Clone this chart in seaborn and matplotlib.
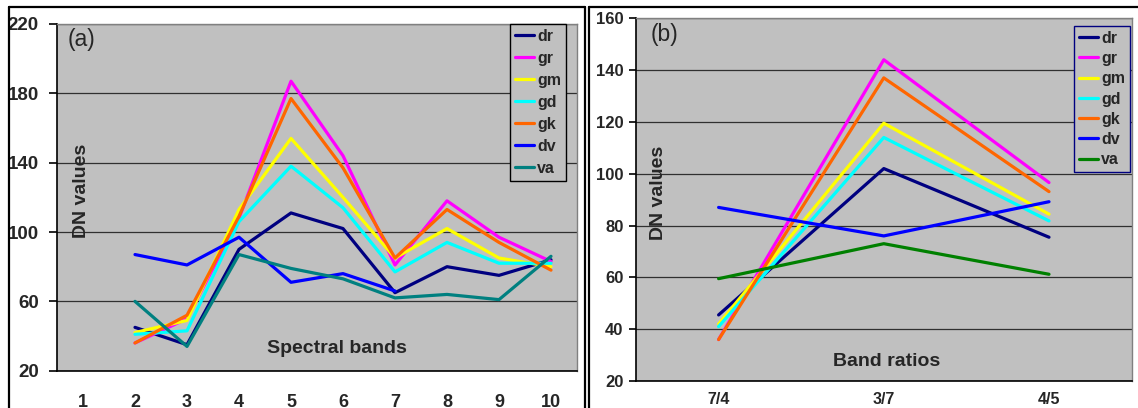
import numpy as np
import pandas as pd
import seaborn as sns
import matplotlib.pyplot as plt
from matplotlib.lines import Line2D

# Panel (a): DN values per spectral band (band 1 has no data)
bands = ['1', '2', '3', '4', '5', '6', '7', '8', '9', '10']
bands_used = ['2', '3', '4', '5', '6', '7', '8', '9', '10']
series = ['dr', 'gr', 'gm', 'gd', 'gk', 'dv', 'va']

dr_a = [45, 35, 90, 111, 102, 65, 80, 75, 84]
gr_a = [36, 50, 108, 187, 144, 81, 118, 97, 83]
gm_a = [42, 49, 113, 154, 120, 85, 102, 85, 80]
gd_a = [41, 43, 106, 138, 114, 77, 94, 82, 82]
gk_a = [36, 52, 109, 177, 137, 85, 113, 94, 78]
dv_a = [87, 81, 97, 71, 76, 66, np.nan, np.nan, np.nan]
va_a = [60, 34, 87, 79, 73, 62, 64, 61, 86]

# Panel (b): DN values per band ratio
ratios = ['7/4', '3/7', '4/5']
dr_b = [45.5, 102, 75.5]
gr_b = [36, 144, 96.6]
gm_b = [42, 119.5, 84.4]
gd_b = [41, 114, 81.8]
gk_b = [36, 137, 93.1]
dv_b = [87, 76, 89.2]
va_b = [59.5, 73, 61.2]

colors_a = ['#000080', '#FF00FF', '#FFFF00', '#00FFFF', '#FF6600', '#0000FF', '#008080']
colors_b = ['#000080', '#FF00FF', '#FFFF00', '#00FFFF', '#FF6600', '#0000FF', '#008000']


def to_long(values, cats):
    rows = []
    for name, vals in zip(series, values):
        for c, v in zip(cats, vals):
            rows.append({'series': name, 'cat': c, 'dn': v})
    return pd.DataFrame(rows)


df_a = to_long([dr_a, gr_a, gm_a, gd_a, gk_a, dv_a, va_a], bands_used)
df_a['pos'] = df_a['cat'].map({b: i for i, b in enumerate(bands)})
df_a = df_a.dropna()
df_b = to_long([dr_b, gr_b, gm_b, gd_b, gk_b, dv_b, va_b], ratios)
df_b['pos'] = df_b['cat'].map({r: i for i, r in enumerate(ratios)})

sns.set_style('white', {'axes.facecolor': '#C0C0C0'})
plt.rcParams['font.family'] = ['Liberation Sans', 'DejaVu Sans']

fig = plt.figure(figsize=(11.38, 4.08), dpi=100)
W, H = 1138.0, 408.0

# chart-area frames
for x in [9, 585]:
    fig.add_artist(Line2D([x / W, x / W], [0, 1 - 7 / H], color='black', lw=1.6))
fig.add_artist(Line2D([9 / W, 585 / W], [1 - 7 / H, 1 - 7 / H], color='black', lw=1.6))
fig.add_artist(Line2D([589 / W, 589 / W], [0, 1 - 7 / H], color='black', lw=1.6))
fig.add_artist(Line2D([589 / W, 1], [1 - 7 / H, 1 - 7 / H], color='black', lw=1.6))

ax1 = fig.add_axes([57 / W, (H - 370.7) / H, 520 / W, 346.7 / H])
ax2 = fig.add_axes([636 / W, (H - 381) / H, 495.6 / W, 362.7 / H])


def style_axes(ax, ymin, ymax, step, colors, df, legend_x, legend_top, spacing):
    ax.set_axisbelow(True)
    ax.yaxis.grid(True, color='#303030', lw=0.9)
    sns.lineplot(data=df, x='pos', y='dn', hue='series', hue_order=series,
                 palette=colors, linewidth=2.3, sort=False, estimator=None,
                 ax=ax)
    ax.set_ylim(ymin, ymax)
    ax.set_yticks(np.arange(ymin, ymax + 1, step))
    ax.set_xlabel('')
    ax.set_ylabel('')
    for s in ['top', 'right']:
        ax.spines[s].set_color('#808080')
        ax.spines[s].set_linewidth(1.0)
    for s in ['left', 'bottom']:
        ax.spines[s].set_color('black')
        ax.spines[s].set_linewidth(1.2)
    sns.move_legend(ax, loc='upper left', bbox_to_anchor=(legend_x, legend_top),
                    title=None, frameon=True, fancybox=False, framealpha=1,
                    borderpad=0.3, labelspacing=spacing, handlelength=1.2,
                    handletextpad=0.2, borderaxespad=0,
                    prop={'weight': 'bold', 'size': 11.5})
    leg = ax.get_legend()
    leg.get_frame().set_linewidth(1.0)
    for line in leg.get_lines():
        line.set_linewidth(2.3)


style_axes(ax1, 20, 220, 40, colors_a, df_a, 0.871, 1.0, 0.44)
style_axes(ax2, 20, 160, 20, colors_b, df_b, 0.884, 0.979, 0.33)
ax1.get_legend().get_frame().set_edgecolor('black')
ax2.get_legend().get_frame().set_edgecolor('#000080')

# panel (a) x axis: labels centred, ticks on category boundaries
ax1.set_xlim(-0.5, 9.5)
ax1.set_xticks(range(len(bands)))
ax1.set_xticklabels(bands)
ax1.set_xticks(np.arange(-0.5, 10, 1), minor=True)
ax1.tick_params(axis='x', which='major', length=0, pad=17, labelsize=13)
ax1.tick_params(axis='x', which='minor', direction='out', length=6, width=1.2, color='black')
ax1.tick_params(axis='y', direction='out', length=6, width=1.2, color='black', pad=7,
                labelsize=13.5, left=True)
for lbl in ax1.get_xticklabels() + ax1.get_yticklabels():
    lbl.set_fontweight('bold')

# panel (b)
ax2.set_xlim(-0.5, 2.5)
ax2.set_xticks(range(len(ratios)))
ax2.set_xticklabels(ratios)
ax2.tick_params(axis='x', length=0, pad=8, labelsize=11.5)
ax2.tick_params(axis='y', direction='out', length=5, width=1.2, color='black', pad=4,
                labelsize=12, left=True)
for lbl in ax2.get_xticklabels() + ax2.get_yticklabels():
    lbl.set_fontweight('bold')

ax1.text(0.021, 0.955, '(a)', transform=ax1.transAxes, fontsize=16.5, va='center', ha='left')
ax2.text(0.03, 0.955, '(b)', transform=ax2.transAxes, fontsize=16.5, va='center', ha='left')
ax1.text(0.047, 0.52, 'DN values', transform=ax1.transAxes, rotation=90, fontsize=14,
         fontweight='bold', va='center', ha='center')
ax2.text(0.045, 0.518, 'DN values', transform=ax2.transAxes, rotation=90, fontsize=14,
         fontweight='bold', va='center', ha='center')
ax1.text(0.539, 0.064, 'Spectral bands', transform=ax1.transAxes, fontsize=14,
         fontweight='bold', va='center', ha='center')
ax2.text(0.506, 0.055, 'Band ratios', transform=ax2.transAxes, fontsize=14,
         fontweight='bold', va='center', ha='center')

fig.savefig('out.png', dpi=100)
